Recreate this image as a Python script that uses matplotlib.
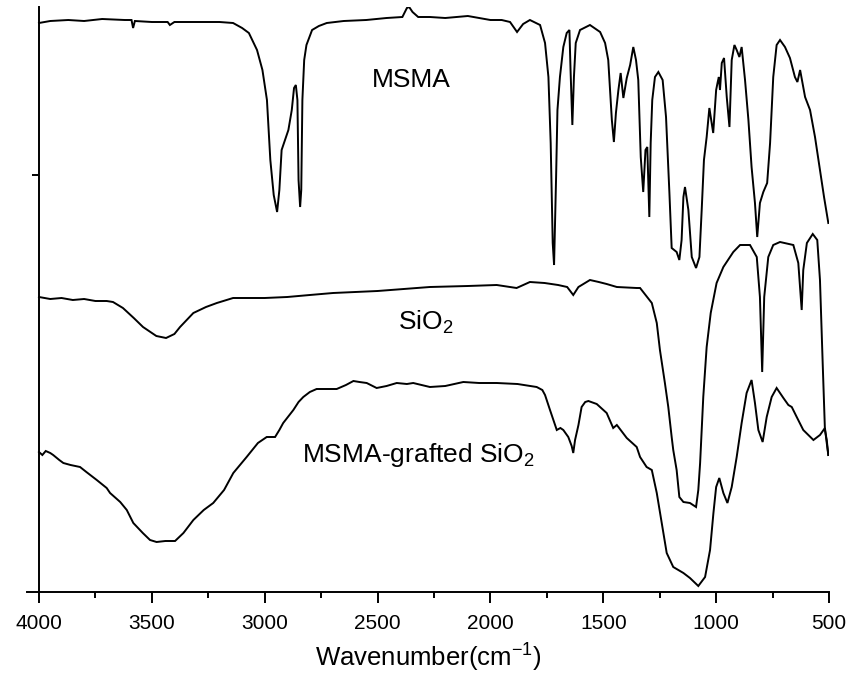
import matplotlib
matplotlib.use("Agg")
import matplotlib.pyplot as plt
import numpy as np
from matplotlib.ticker import MultipleLocator, FixedLocator

plt.rcParams['font.family'] = ['Liberation Sans', 'DejaVu Sans']
plt.rcParams['mathtext.fontset'] = 'custom'
plt.rcParams['mathtext.rm'] = 'Liberation Sans'
plt.rcParams['mathtext.it'] = 'Liberation Sans'

# ---- data: wavenumber (cm^-1) and relative transmittance (arb. units) ----
msma_wn = [4000, 3950, 3870, 3800, 3720, 3620, 3590, 3583, 3575, 3500, 3430, 3420, 3400, 3300,
           3200, 3140, 3100, 3070, 3034, 3010, 2990, 2975, 2960, 2945, 2935, 2925, 2910, 2895,
           2880, 2870, 2862, 2855, 2850, 2843, 2838, 2833, 2825, 2815, 2790, 2760, 2725, 2650,
           2550, 2460, 2390, 2370, 2360, 2345, 2320, 2268, 2200, 2100, 2000, 1950, 1913, 1882,
           1855, 1825, 1780, 1758, 1743, 1733, 1724, 1718, 1709, 1703, 1692, 1677, 1662, 1650,
           1645, 1637, 1630, 1622, 1603, 1559, 1514, 1492, 1478, 1470, 1462, 1453, 1444, 1433,
           1423, 1411, 1396, 1381, 1367, 1355, 1345, 1334, 1323, 1313, 1305, 1296, 1290, 1283,
           1271, 1256, 1237, 1222, 1207, 1197, 1175, 1163, 1153, 1145, 1138, 1123, 1108, 1089,
           1074, 1064, 1054, 1042, 1030, 1013, 1000, 993, 988, 983, 975, 965, 953, 941, 931,
           919, 909, 897, 887, 872, 857, 843, 828, 818, 806, 791, 774, 761, 747, 732, 717, 695,
           673, 651, 640, 628, 606, 584, 562, 540, 522, 503]
msma_t = [569, 571, 572, 571, 573, 572, 572, 564, 571, 570, 570, 567, 570, 570,
          570, 569, 564, 559, 542, 522, 492, 432, 397, 380, 402, 442, 452, 462,
          482, 504, 507, 492, 412, 385, 402, 492, 532, 547, 562, 566, 569, 571,
          572, 574, 575, 584, 585, 580, 575, 575, 574, 576, 572, 572, 570, 560,
          568, 572, 567, 549, 515, 449, 349, 327, 415, 482, 515, 545, 559, 562,
          522, 467, 515, 549, 562, 567, 560, 549, 532, 502, 472, 450, 479, 502,
          519, 494, 514, 527, 545, 532, 512, 435, 400, 442, 445, 375, 449, 492,
          515, 520, 512, 475, 399, 344, 340, 332, 352, 395, 405, 382, 335, 324,
          335, 382, 432, 455, 484, 459, 502, 510, 515, 502, 529, 534, 495, 465, 532,
          547, 542, 535, 545, 512, 472, 425, 389, 355, 389, 400, 409, 449, 515, 547, 552, 545,
          534, 515, 510, 522, 495, 482, 455, 422, 395, 369]

sio2_wn = [4000, 3950, 3900, 3850, 3800, 3750, 3700, 3672, 3628, 3580, 3539, 3480, 3437, 3400,
           3375, 3316, 3260, 3212, 3140, 3000, 2900, 2800, 2697, 2500, 2268, 2100, 1972, 1884,
           1825, 1760, 1700, 1660, 1633, 1610, 1559, 1520, 1485, 1440, 1352, 1337, 1285, 1263,
           1249, 1227, 1212, 1197, 1190, 1175, 1163, 1145, 1116, 1089, 1079, 1071, 1064, 1057,
           1042, 1024, 998, 968, 924, 894, 850, 820, 806, 796, 787, 769, 747, 717, 658, 636,
           621, 614, 598, 572, 552, 540, 528, 518, 510, 503]
sio2_t = [295, 293, 294, 292, 293, 291, 291, 290, 284, 274, 265, 256, 254, 258,
          265, 279, 285, 289, 294, 294, 295, 297, 299, 301, 305, 306, 307, 304,
          310, 309, 307, 305, 297, 305, 312, 310, 308, 305, 304, 304, 289, 269,
          242, 209, 185, 155, 142, 122, 95, 90, 89, 85, 102, 129, 162, 195,
          245, 279, 309, 325, 340, 347, 347, 335, 295, 220, 295, 335, 347, 350, 347, 329,
          282, 322, 349, 358, 352, 312, 229, 162, 152, 137]

graft_wn = [4000, 3985, 3970, 3950, 3937, 3910, 3892, 3860, 3818, 3790, 3744, 3700, 3685, 3640,
            3611, 3582, 3540, 3508, 3479, 3440, 3397, 3360, 3316, 3270, 3228, 3180, 3139, 3080,
            3030, 2991, 2954, 2935, 2918, 2873, 2850, 2829, 2800, 2770, 2720, 2681, 2640, 2607,
            2580, 2548, 2504, 2460, 2415, 2370, 2342, 2268, 2200, 2120, 2050, 1972, 1880, 1795,
            1770, 1758, 1736, 1706, 1690, 1677, 1655, 1640, 1633, 1625, 1610, 1596, 1580, 1566,
            1529, 1485, 1456, 1440, 1433, 1396, 1352, 1337, 1308, 1285, 1263, 1241, 1219, 1190,
            1145, 1116, 1079, 1049, 1027, 1012, 1000, 986, 968, 950, 931, 909, 887, 865, 843,
            828, 813, 794, 776, 754, 732, 702, 680, 665, 643, 614, 569, 540, 518, 510, 503]
graft_t = [140, 137, 141, 139, 137, 132, 129, 127, 125, 120, 112, 104, 99, 90,
           82, 69, 59, 52, 50, 51, 51, 59, 72, 82, 89, 102, 119, 135,
           149, 155, 155, 162, 169, 182, 190, 195, 200, 203, 203, 203, 207, 211,
           210, 209, 204, 206, 209, 208, 209, 205, 206, 210, 209, 209, 208, 205,
           202, 197, 182, 162, 164, 162, 155, 146, 139, 152, 167, 185, 190, 191,
           188, 179, 164, 167, 165, 154, 145, 135, 125, 122, 99, 69, 39, 25,
           19, 14, 6, 15, 42, 79, 105, 114, 99, 89, 105, 135, 169, 199, 212,
           189, 162, 150, 175, 195, 204, 194, 187, 185, 175, 162, 152, 157, 164, 149, 137]

xticks_major = [4000, 3500, 3000, 2500, 2000, 1500, 1000, 500]
ytick_pos = [417]

# ---- figure ----
fig = plt.figure(figsize=(8.6, 6.85), dpi=100)
ax = fig.add_axes([27 / 860, (685 - 592) / 685, (829 - 27) / 860, (592 - 7) / 685])

for wn, t in [(msma_wn, msma_t), (sio2_wn, sio2_t), (graft_wn, graft_t)]:
    ax.plot(wn, t, color='black', lw=1.4, solid_joinstyle='miter')

ax.set_xlim(4053, 500)
ax.set_ylim(0, 585)

ax.spines['top'].set_visible(False)
ax.spines['right'].set_visible(False)
ax.spines['left'].set_position(('data', 4000))
for s in ('left', 'bottom'):
    ax.spines[s].set_linewidth(1.4)

ax.xaxis.set_major_locator(FixedLocator(xticks_major))
ax.xaxis.set_minor_locator(MultipleLocator(250))
ax.yaxis.set_major_locator(FixedLocator(ytick_pos))
ax.set_yticklabels([])
ax.tick_params(axis='x', which='major', direction='out', length=8, width=1.4,
               labelsize=15, pad=8)
ax.tick_params(axis='x', which='minor', direction='out', length=4, width=1.4)
ax.tick_params(axis='y', which='major', direction='out', length=5, width=1.4)

ax.set_xlabel('Wavenumber(cm$^{\\mathregular{-1}}$)', fontsize=18.5, labelpad=6)

ax.text(2525, 505, 'MSMA', fontsize=19, ha='left', va='baseline')
ax.text(2410, 262, 'SiO$_\\mathregular{2}$', fontsize=19, ha='left', va='baseline')
ax.text(2835, 130, 'MSMA-grafted SiO$_\\mathregular{2}$', fontsize=19, ha='left', va='baseline')

fig.savefig('out.png', dpi=100)
